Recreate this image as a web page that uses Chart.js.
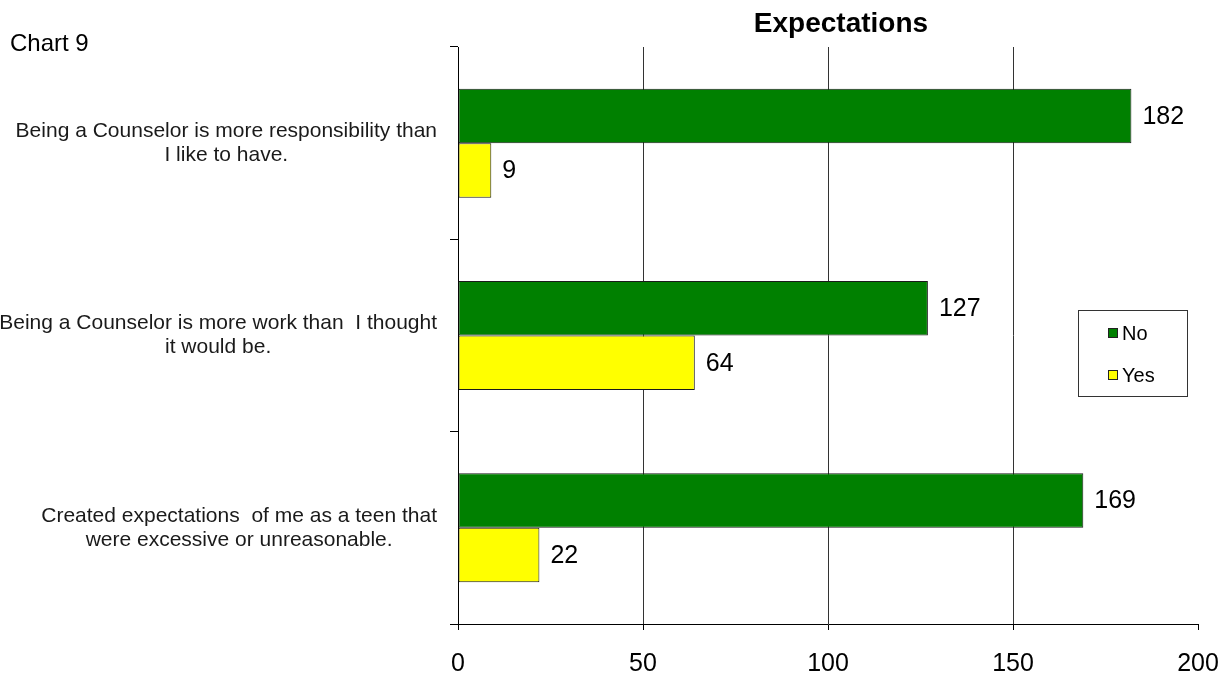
<!DOCTYPE html>
<html>
<head>
<meta charset="utf-8">
<title>Expectations</title>
<script src="https://cdn.jsdelivr.net/npm/chart.js@4/dist/chart.umd.min.js"></script>
<style>
  html, body { margin: 0; padding: 0; background: #fff; }
  #wrap { width: 1231px; height: 673px; position: relative; }
</style>
</head>
<body>
<div id="wrap"><canvas id="myChart" width="1231" height="673"></canvas></div>
<script>
// Survey statements (one array per label, one string per line)
const categories = [
  ["Being a Counselor is more responsibility than", "I like to have."],
  ["Being a Counselor is more work than  I thought", "it would be."],
  ["Created expectations  of me as a teen that", "were excessive or unreasonable."]
];

// Answer counts per statement
const noValues = [182, 127, 169];
const yesValues = [9, 64, 22];

// Horizontal axis
const xMin = 0;
const xMax = 200;
const xStep = 50;

const FONT = "Arial, 'Liberation Sans', sans-serif";

// Draws the statement labels, centred line by line, right edge next to the axis
const categoryLabels = {
  id: "categoryLabels",
  afterDraw(chart) {
    const ctx = chart.ctx;
    const yScale = chart.scales.y;
    const right = chart.chartArea.left - 21;
    const lineH = 24;
    ctx.save();
    ctx.font = "21px " + FONT;
    ctx.fillStyle = "#1a1a1a";
    ctx.textAlign = "center";
    ctx.textBaseline = "middle";
    categories.forEach((lines, i) => {
      const maxW = Math.max(...lines.map(l => ctx.measureText(l).width));
      const cx = right - maxW / 2;
      const cy = yScale.getPixelForTick(i);
      lines.forEach((l, j) => {
        ctx.fillText(l, cx, cy + (j - (lines.length - 1) / 2) * lineH);
      });
    });
    ctx.restore();
  }
};

// Value next to the end of each bar
const barValues = {
  id: "barValues",
  afterDatasetsDraw(chart) {
    const ctx = chart.ctx;
    ctx.save();
    ctx.font = "25px " + FONT;
    ctx.fillStyle = "#000";
    ctx.textAlign = "left";
    ctx.textBaseline = "middle";
    chart.data.datasets.forEach((ds, di) => {
      chart.getDatasetMeta(di).data.forEach((bar, i) => {
        ctx.fillText(ds.data[i], bar.x + 11, bar.y + 1);
      });
    });
    ctx.restore();
  }
};

// Title, caption and boxed legend
const decorations = {
  id: "decorations",
  afterDraw(chart) {
    const ctx = chart.ctx;
    ctx.save();
    ctx.fillStyle = "#000";
    ctx.textBaseline = "alphabetic";
    ctx.font = "24px " + FONT;
    ctx.textAlign = "left";
    ctx.fillText("Chart 9", 10, 51);

    ctx.font = "bold 28px " + FONT;
    ctx.textAlign = "center";
    ctx.fillText("Expectations", 841, 32);

    // legend box
    ctx.strokeStyle = "#333";
    ctx.lineWidth = 1;
    ctx.strokeRect(1078.5, 310.5, 109, 86);
    ctx.font = "20px " + FONT;
    ctx.textAlign = "left";
    ctx.textBaseline = "middle";
    const rows = [333, 375];
    chart.data.datasets.forEach((ds, i) => {
      const y = rows[i];
      ctx.fillStyle = ds.backgroundColor;
      ctx.fillRect(1108, y - 5, 10, 10);
      ctx.strokeStyle = "#222";
      ctx.strokeRect(1108.5, y - 4.5, 9, 9);
      ctx.fillStyle = "#000";
      ctx.fillText(ds.label, 1122, y + 1);
    });
    ctx.restore();
  }
};

const ctx = document.getElementById("myChart").getContext("2d");
const myChart = new Chart(ctx, {
  type: "bar",
  data: {
    labels: categories,
    datasets: [
      {
        label: "No",
        data: noValues,
        backgroundColor: "#008000",
        borderColor: "#1a1a1a",
        borderWidth: 1,
        borderSkipped: false,
        categoryPercentage: 0.567,
        barPercentage: 1.0
      },
      {
        label: "Yes",
        data: yesValues,
        backgroundColor: "#ffff00",
        borderColor: "#1a1a1a",
        borderWidth: 1,
        borderSkipped: false,
        categoryPercentage: 0.567,
        barPercentage: 1.0
      }
    ]
  },
  options: {
    indexAxis: "y",
    responsive: false,
    animation: false,
    devicePixelRatio: 1,
    layout: { padding: { top: 47, right: 33, left: 0, bottom: 0 } },
    plugins: {
      legend: { display: false },
      title: { display: false },
      tooltip: { enabled: false }
    },
    scales: {
      x: {
        type: "linear",
        min: xMin,
        max: xMax,
        ticks: {
          stepSize: xStep,
          color: "#000",
          font: { family: FONT, size: 25 },
          padding: 19,
          maxRotation: 0
        },
        grid: {
          // no full-height line at the right end, only its tick mark
          color: (c) => (c.tick && c.tick.value === xMax ? "rgba(0,0,0,0)" : "#333"),
          lineWidth: 1,
          drawTicks: true,
          tickLength: 6,
          tickColor: "#000"
        },
        border: { color: "#000", width: 1 },
        afterFit(scale) {
          scale.height = 49;
          // let the layout padding alone decide where the plot ends
          scale.paddingLeft = 0;
          scale.paddingRight = 0;
        }
      },
      y: {
        type: "category",
        ticks: { display: false },
        grid: {
          offset: true,
          drawOnChartArea: false,
          drawTicks: true,
          tickLength: 8,
          color: "#000"
        },
        border: { color: "#000", width: 1 },
        afterFit(scale) { scale.width = 458; }
      }
    }
  },
  plugins: [categoryLabels, barValues, decorations]
});
</script>
</body>
</html>
